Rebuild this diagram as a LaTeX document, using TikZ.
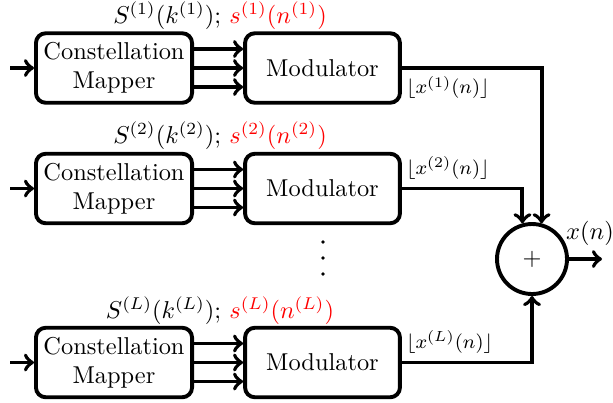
\documentclass[tikz,border=0pt]{standalone}
\usetikzlibrary{arrows}
\begin{document}
\begin{tikzpicture}[x=0.41pt,y=-0.41pt, line width=1.6pt,
  blk/.style={draw, rounded corners=4pt, minimum width=64pt, minimum height=28.5pt, align=center, inner sep=0pt},
  mdb/.style={blk, minimum width=63.5pt},
  sumnode/.style={draw, circle, minimum size=28.7pt, inner sep=0pt},
  outlab/.style={font=\footnotesize, inner sep=1pt},
  toplab/.style={inner sep=0pt}]
\useasboundingbox (0,0) rectangle (613,402);
% row 1
\node[blk] (cm1) at (114,68) {Constellation\\Mapper};
\node[mdb] (md1) at (322.5,68) {Modulator};
\coordinate (in1) at (10,68);
\node[toplab] (lab1) at (220,16) {$S^{(1)}(k^{(1)})$; \textcolor{red}{$s^{(1)}(n^{(1)})$}};
% row 2
\node[blk] (cm2) at (114,188.5) {Constellation\\Mapper};
\node[mdb] (md2) at (322.5,188.5) {Modulator};
\coordinate (in2) at (10,188.5);
\node[toplab] (lab2) at (220,135.5) {$S^{(2)}(k^{(2)})$; \textcolor{red}{$s^{(2)}(n^{(2)})$}};
% row L
\node[blk] (cmL) at (114,362.5) {Constellation\\Mapper};
\node[mdb] (mdL) at (322.5,362.5) {Modulator};
\coordinate (inL) at (10,362.5);
\node[toplab] (labL) at (220,310.5) {$S^{(L)}(k^{(L)})$; \textcolor{red}{$s^{(L)}(n^{(L)})$}};
% sum
\node[sumnode] (sum) at (532,259) {$+$};
\coordinate (out) at (602,259);
\node (xn) at (590,233) {$x(n)$};
% inputs
\foreach \r in {1,2,L}{
  \draw[->] (in\r) -- (cm\r);
  \draw[->] ([yshift=7.8pt]cm\r.east) -- ([yshift=7.8pt]md\r.west);
  \draw[->] (cm\r.east) -- (md\r.west);
  \draw[->] ([yshift=-7.8pt]cm\r.east) -- ([yshift=-7.8pt]md\r.west);
}
% outputs
\draw[->] (md1.east) -| (sum.75);
\draw[->] (md2.east) -| (sum.105);
\draw[->] (mdL.east) -| (sum.south);
\draw[->] (sum.east) -- (out);
% output labels
\node[outlab, anchor=north west] (o1) at ([xshift=0pt,yshift=-1.5pt]md1.east) {$\lfloor x^{(1)}(n)\rfloor$};
\node[outlab, anchor=south west] (o2) at ([xshift=0pt,yshift=2pt]md2.east) {$\lfloor x^{(2)}(n)\rfloor$};
\node[outlab, anchor=south west] (oL) at ([xshift=0pt,yshift=2pt]mdL.east) {$\lfloor x^{(L)}(n)\rfloor$};
% dots
\foreach \yy in {242,258,274} \fill (323,\yy) circle (0.75pt);
\end{tikzpicture}
\end{document}
